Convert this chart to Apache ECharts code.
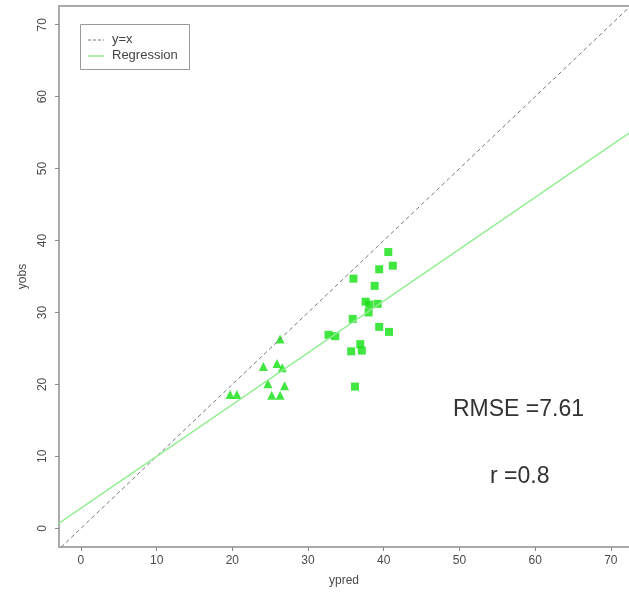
<!DOCTYPE html>
<html>
<head>
<meta charset="utf-8">
<script src="https://cdn.jsdelivr.net/npm/echarts@6/dist/echarts.min.js"></script>
<style>html,body{margin:0;padding:0;background:#fff;}#c{width:629px;height:593px;}</style>
</head>
<body>
<div id="c"></div>
<script>
// ---- data ----
const tickValues = [0, 10, 20, 30, 40, 50, 60, 70];
const squareX = [40.6, 41.2, 39.4, 36.0, 38.8, 37.6, 39.2, 38.1, 38.0, 35.9, 39.4, 40.7, 32.7, 33.6, 36.9, 37.1, 35.7, 36.2];
const squareY = [38.4, 36.5, 36.0, 34.7, 33.7, 31.5, 31.2, 31.1, 30.0, 29.1, 28.0, 27.3, 26.9, 26.7, 25.6, 24.7, 24.6, 19.7];
const triX = [26.3, 24.1, 25.9, 26.6, 24.7, 26.9, 25.2, 26.3, 19.7, 20.6];
const triY = [26.3, 22.5, 22.9, 22.3, 20.1, 19.8, 18.5, 18.5, 18.6, 18.6];
const regIntercept = 2.8;
const regSlope = 0.72;
const identityEnds = [-10, 90];
const legendNames = ['y=x', 'Regression'];
const rmseText = 'RMSE =7.61';
const rText = 'r =0.8';

const xMin = -2.9, xMax = 72.4, yMin = -2.6, yMax = 72.6;
const green = '#12e012';
const font = 'Liberation Sans, Arial, sans-serif';
const frame = { color: '#aaa', width: 2 };

const chart = echarts.init(document.getElementById('c'));
const axisCommon = {
  type: 'value',
  splitLine: { show: false },
  axisLine: { show: true, onZero: false, lineStyle: frame },
  axisTick: { show: true, length: 4, inside: false, customValues: tickValues, lineStyle: { color: '#888', width: 1 } },
  axisLabel: { customValues: tickValues, color: '#4a4a4a', fontSize: 12, fontFamily: font },
  nameLocation: 'middle',
  nameTextStyle: { color: '#4a4a4a', fontSize: 12, fontFamily: font }
};
chart.setOption({
  animation: false,
  backgroundColor: '#fff',
  grid: { left: 59, top: 6, right: 0, bottom: 46, show: false },
  xAxis: [
    Object.assign({}, axisCommon, {
      min: xMin, max: xMax, name: 'ypred', nameGap: 28, position: 'bottom',
      axisLabel: Object.assign({}, axisCommon.axisLabel, { margin: 8 })
    }),
    {
      type: 'value', position: 'top', min: xMin, max: xMax,
      axisLine: { show: true, onZero: false, lineStyle: frame },
      axisTick: { show: false }, axisLabel: { show: false }, splitLine: { show: false }
    }
  ],
  yAxis: Object.assign({}, axisCommon, {
    min: yMin, max: yMax, name: 'yobs', nameGap: 28,
    axisLabel: Object.assign({}, axisCommon.axisLabel, { rotate: 90, margin: 10 })
  }),
  series: [
    {
      name: legendNames[0], type: 'line', symbol: 'none', silent: true, clip: true,
      data: identityEnds.map(v => [v, v]),
      lineStyle: { color: '#777', width: 1, type: [4, 3] }
    },
    {
      name: legendNames[1], type: 'line', symbol: 'none', silent: true, clip: true,
      data: identityEnds.map(v => [v, regIntercept + regSlope * v]),
      lineStyle: { color: '#90ee90', width: 1.5 }
    },
    {
      name: 'squares', type: 'scatter', symbol: 'rect', symbolSize: 8,
      data: squareX.map((x, i) => [x, squareY[i]]),
      itemStyle: { color: green }
    },
    {
      name: 'triangles', type: 'scatter', symbol: 'triangle', symbolSize: 9,
      data: triX.map((x, i) => [x, triY[i]]),
      itemStyle: { color: green }
    }
  ],
  graphic: [
    { type: 'rect', left: 80, top: 24, shape: { width: 109, height: 45 }, style: { fill: '#fff', stroke: '#999', lineWidth: 1 } },
    { type: 'line', shape: { x1: 88, y1: 40, x2: 104, y2: 40 }, style: { stroke: '#777', lineWidth: 1, lineDash: [3, 2] } },
    { type: 'text', left: 112, top: 33, style: { text: legendNames[0], fill: '#444', fontSize: 13, fontFamily: font } },
    { type: 'line', shape: { x1: 88, y1: 56, x2: 104, y2: 56 }, style: { stroke: '#90ee90', lineWidth: 1.5 } },
    { type: 'text', left: 112, top: 49, style: { text: legendNames[1], fill: '#444', fontSize: 13, fontFamily: font } },
    { type: 'text', left: 453, top: 398, style: { text: rmseText, fill: '#333', fontSize: 23, fontFamily: font } },
    { type: 'text', left: 490, top: 465, style: { text: rText, fill: '#333', fontSize: 23, fontFamily: font } }
  ]
});
</script>
</body>
</html>
